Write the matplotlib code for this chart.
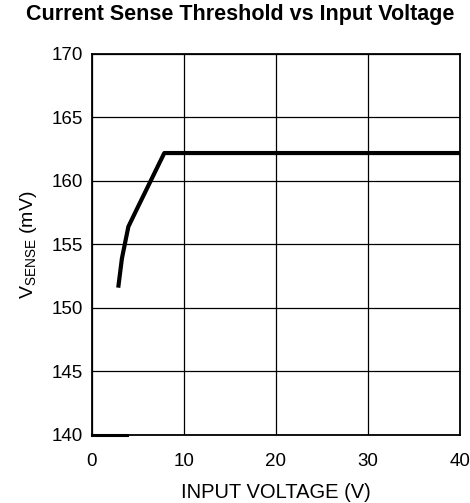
import matplotlib
matplotlib.use("Agg")
import matplotlib.pyplot as plt

plt.rcParams["font.family"] = ["Liberation Sans", "DejaVu Sans"]
plt.rcParams["mathtext.fontset"] = "custom"
plt.rcParams["mathtext.rm"] = "Liberation Sans"

# Data
input_voltage = [2.9, 3.3, 4.0, 4.8, 7.9, 40.0]
v_sense = [151.6, 153.9, 156.4, 157.6, 162.2, 162.2]

# short stub drawn on the bottom axis in the original
stub_x = [0.0, 3.9]
stub_y = [140.0, 140.0]

x_ticks = [0, 10, 20, 30, 40]
y_ticks = [140, 145, 150, 155, 160, 165, 170]

fig = plt.figure(figsize=(4.70, 5.03), dpi=100)
ax = fig.add_axes([0.1947, 0.1352, 0.7840, 0.7575])

ax.plot(input_voltage, v_sense, color="black", linewidth=3.0,
        solid_capstyle="butt", zorder=3)
ax.plot(stub_x, stub_y, color="black", linewidth=2.2, clip_on=False, zorder=4)

ax.set_xlim(0, 40)
ax.set_ylim(140, 170)
ax.set_xticks(x_ticks)
ax.set_yticks(y_ticks)
ax.tick_params(axis="y", length=0, labelsize=13.5, pad=6)
ax.tick_params(axis="x", length=0, labelsize=13.5, pad=13)
ax.grid(True, color="black", linewidth=0.9)
for s in ax.spines.values():
    s.set_linewidth(1.3)

ax.set_xlabel("INPUT VOLTAGE (V)", fontsize=14.5, labelpad=9)
ax.set_ylabel(r"V$_{\mathregular{SENSE}}$ (mV)", fontsize=14, labelpad=9)
fig.text(0.511, 0.972, "Current Sense Threshold vs Input Voltage",
         ha="center", va="center", fontsize=15.5, fontweight="bold")

fig.savefig("out.png", dpi=100)
